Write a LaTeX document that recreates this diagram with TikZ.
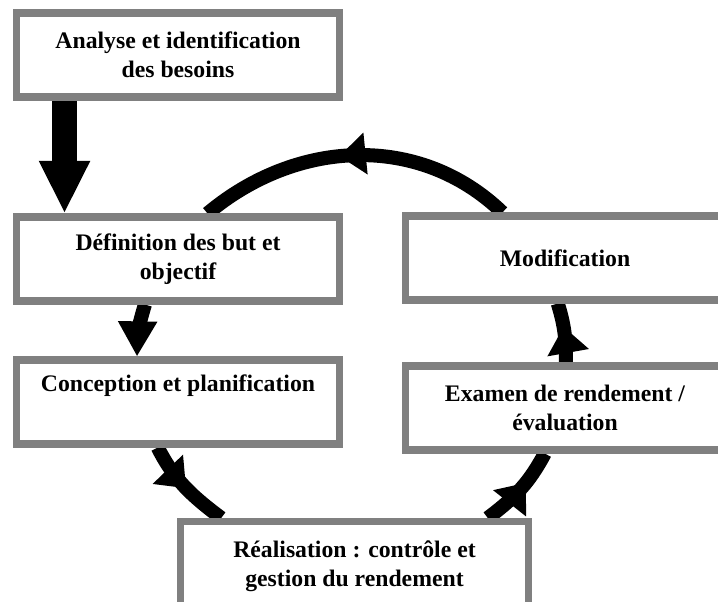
\documentclass[tikz,border=0pt]{standalone}
\usepackage{fontspec}
\setmainfont{Liberation Serif}
\usetikzlibrary{arrows.meta,decorations.markings,backgrounds}

\begin{document}
\begin{tikzpicture}[x=0.02cm, y=0.02cm, line join=round,
	box/.style={draw=gray, line width=4pt, line join=miter, fill=white, minimum width=6.46cm, minimum height=1.68cm,
		inner sep=2pt, align=center, font=\fontsize{13.5}{16.5}\selectfont\bfseries},
	cyc/.style={line width=8pt},
	midarrow/.style={postaction={decorate}, decoration={markings,
			mark=at position #1 with {\arrow{Triangle[length=15pt,width=23pt]}}}},
	bigarrow/.style={line width=14pt, -{Triangle[length=30pt,width=27pt]}}]
	
	\useasboundingbox (0,0) rectangle (718,-602);
	
	% left column
	\node[box] (analyse) at (178,-55) {Analyse et identification\\des besoins};
	\node[box] (defn) at (178,-259) {Définition des but et\\objectif};
	\node[box] (concep) at (178,-402) {Conception et planification\\\strut};
	
	% bottom and right column
	\node[box, minimum width=6.96cm, minimum height=1.8cm] (realis) at (354.5,-566.5) {Réalisation : contrôle et\\gestion du rendement};
	\node[box, minimum width=6.4cm] (modif) at (565,-258) {Modification};
	\node[box, minimum width=6.4cm] (examen) at (565,-408) {Examen de rendement /\\évaluation};
	
	\begin{scope}[on background layer]
		\fill[white] (0,0) rectangle (718,-602);
		
		\draw[bigarrow] ([xshift=-2.27cm]analyse.south) -- ([xshift=-2.27cm]defn.north);
		
		% the cycle
		\draw[cyc, midarrow=0.55] (modif.144) to[out=136, in=40] (defn.57);
		\draw[cyc, -{Triangle[length=20pt,width=21pt]}] (defn.234) to[out=253, in=89] (concep.132);
		\draw[cyc, midarrow=0.52] (concep.246) to[out=-63, in=143] (realis.160);
		\draw[cyc, midarrow=0.6] (realis.20) to[out=37, in=-118] (examen.-114);
		\draw[cyc, midarrow=0.6] (examen.89) to[out=89, in=-73] (modif.261);
	\end{scope}
	
\end{tikzpicture}
\end{document}
